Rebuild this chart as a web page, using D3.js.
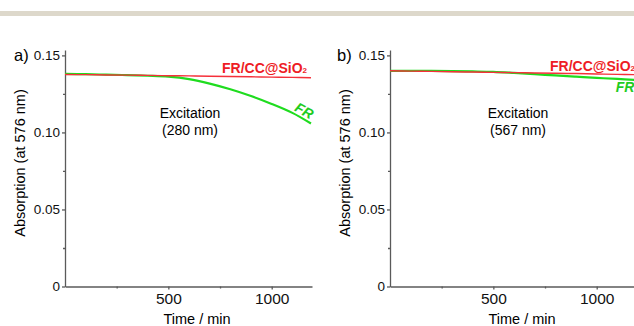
<!DOCTYPE html>
<meta charset="utf-8">
<style>
body { margin: 0; background: #fff; }
svg { display: block; font-family: "Liberation Sans", Arial, sans-serif; }
.axis path, .axis line { stroke: #5a5a5a; stroke-width: 1.3px; }
.axis text { fill: #111; }
</style>
<svg width="634" height="326"></svg>
<script src="https://cdn.jsdelivr.net/npm/d3@7"></script>
<script>
// time points (min) and absorption at 576 nm
var times = [0, 100, 200, 300, 400, 500, 600, 700, 800, 900, 1000, 1100, 1190];

var frA   = [0.1380, 0.1378, 0.1375, 0.1372, 0.1368, 0.1362, 0.1346, 0.1317, 0.1280, 0.1236, 0.1185, 0.1127, 0.1058];
var frccA = [0.1376, 0.1375, 0.1373, 0.1372, 0.1370, 0.1368, 0.1367, 0.1365, 0.1363, 0.1361, 0.1359, 0.1357, 0.1355];

var frB   = [0.1400, 0.1400, 0.1399, 0.1398, 0.1396, 0.1393, 0.1386, 0.1378, 0.1370, 0.1362, 0.1354, 0.1347, 0.1341];
var frccB = [0.1400, 0.1398, 0.1396, 0.1394, 0.1392, 0.1390, 0.1388, 0.1386, 0.1384, 0.1382, 0.1379, 0.1377, 0.1375];

var yTicks = [0, 0.05, 0.10, 0.15],
    yMinor = [0.025, 0.075, 0.125],
    xTicks = [500, 1000],
    xMinor = [250, 750];

var svg = d3.select("svg");

svg.append("rect")
    .attr("x", 0).attr("y", 11)
    .attr("width", 634).attr("height", 5)
    .attr("fill", "#ddd8cb");

var panels = [
  {ax: 65,  letter: "a)", letterX: 14, exc: "(280 nm)", fr: frA, frcc: frccA,
   redX: 222, redY: 72.5, frX: 302, frY: 115, frRot: 28, excX: 190},
  {ax: 390, letter: "b)", letterX: 337, exc: "(567 nm)", fr: frB, frcc: frccB,
   redX: 550, redY: 70.5, frX: 625, frY: 92, frRot: 0, excX: 518}
];

panels.forEach(function(p) {
  var x = d3.scaleLinear().domain([0, 1195]).range([p.ax, p.ax + 247]),
      y = d3.scaleLinear().domain([0, 0.1535]).range([286.5, 50]);

  var g = svg.append("g");

  // minor ticks
  g.append("g")
      .attr("class", "axis")
      .attr("transform", "translate(" + p.ax + ",0)")
      .call(d3.axisLeft(y).tickValues(yMinor).tickSize(2).tickFormat(""))
      .select(".domain").remove();
  g.append("g")
      .attr("class", "axis")
      .attr("transform", "translate(0,286.5)")
      .call(d3.axisBottom(x).tickValues(xMinor).tickSize(2).tickFormat(""))
      .select(".domain").remove();

  g.append("g")
      .attr("class", "axis")
      .attr("transform", "translate(0,286.5)")
      .call(d3.axisBottom(x).tickValues(xTicks).tickSize(3).tickSizeOuter(0).tickPadding(3)
        .tickFormat(d3.format("d")))
      .selectAll("text").style("font-size", "15.5px");

  g.append("g")
      .attr("class", "axis")
      .attr("transform", "translate(" + p.ax + ",0)")
      .call(d3.axisLeft(y).tickValues(yTicks).tickSize(3).tickSizeOuter(0).tickPadding(2)
        .tickFormat(function(d) { return d === 0 ? "0" : d3.format(".2f")(d); }))
      .selectAll("text").style("font-size", "13.5px");

  var line = d3.line()
      .x(function(d, i) { return x(times[i]); })
      .y(function(d) { return y(d); })
      .curve(d3.curveCatmullRom);

  g.append("path")
      .datum(p.fr)
      .attr("d", line)
      .attr("fill", "none")
      .attr("stroke", "#1fdc1f")
      .attr("stroke-width", 2.2);

  g.append("path")
      .datum(p.frcc)
      .attr("d", line)
      .attr("fill", "none")
      .attr("stroke", "#f5303a")
      .attr("stroke-width", 1.4);

  // labels
  g.append("text")
      .attr("x", p.letterX)
      .attr("y", 61)
      .style("font-size", "16.5px")
      .text(p.letter);

  g.append("text")
      .attr("transform", "translate(" + (p.ax - 40) + ",163) rotate(-90)")
      .attr("text-anchor", "middle")
      .style("font-size", "14.5px")
      .text("Absorption (at 576 nm)");

  g.append("text")
      .attr("x", p.ax + 132)
      .attr("y", 324)
      .attr("text-anchor", "middle")
      .style("font-size", "14.5px")
      .text("Time / min");

  g.append("text")
      .attr("x", p.excX).attr("y", 118)
      .attr("text-anchor", "middle")
      .style("font-size", "14px")
      .text("Excitation");
  g.append("text")
      .attr("x", p.excX).attr("y", 135)
      .attr("text-anchor", "middle")
      .style("font-size", "14px")
      .text(p.exc);

  var red = g.append("text")
      .attr("x", p.redX).attr("y", p.redY)
      .attr("fill", "#ee1c25")
      .style("font-size", "14px")
      .style("font-weight", "bold")
      .text("FR/CC@SiO");
  red.append("tspan")
      .style("font-size", "8px")
      .text("2");

  g.append("text")
      .attr("transform", "translate(" + p.frX + "," + p.frY + ") rotate(" + p.frRot + ")")
      .attr("text-anchor", "middle")
      .attr("fill", "#1fcc1f")
      .style("font-size", "14px")
      .style("font-weight", "bold")
      .style("font-style", "italic")
      .text("FR");
});
</script>
